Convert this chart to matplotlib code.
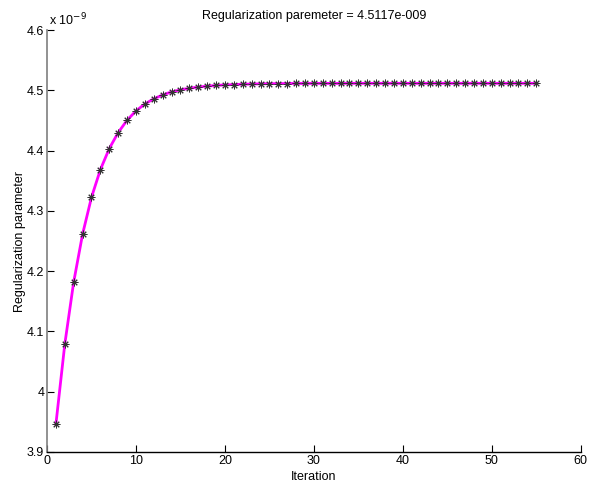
import matplotlib
matplotlib.use("Agg")
import matplotlib.pyplot as plt
from matplotlib.ticker import FuncFormatter

plt.rcParams['font.family'] = ['Liberation Sans', 'DejaVu Sans']

iterations = list(range(1, 56))
reg_param_e9 = [
    3.9460, 4.0790, 4.1820, 4.2615, 4.3225, 4.3685, 4.4035, 4.4300, 4.4505, 4.4660,
    4.4775, 4.4860, 4.4925, 4.4975, 4.5010, 4.5035, 4.5055, 4.5070, 4.5082, 4.5091,
    4.5097, 4.5102, 4.5106, 4.5109, 4.5111, 4.5113, 4.5114, 4.5115, 4.5115, 4.5116,
    4.5116, 4.5116, 4.5116, 4.5117, 4.5117, 4.5117, 4.5117, 4.5117, 4.5117, 4.5117,
    4.5117, 4.5117, 4.5117, 4.5117, 4.5117, 4.5117, 4.5117, 4.5117, 4.5117, 4.5117,
    4.5117, 4.5117, 4.5117, 4.5117, 4.5117,
]
scale = 1e-9
values = [v * scale for v in reg_param_e9]

xticks = [0, 10, 20, 30, 40, 50, 60]
yticks_e9 = [3.9, 4.0, 4.1, 4.2, 4.3, 4.4, 4.5, 4.6]

fig = plt.figure(figsize=(5.92, 4.86), dpi=100)
ax = fig.add_axes([0.0794, 0.070, 0.9016, 0.868])

ax.plot(iterations, values, color='#ff00ff', linewidth=2.0, zorder=2)
ax.plot(iterations, values, linestyle='none', marker=(8, 2, 0), color='#333333',
        markersize=5.5, markeredgewidth=0.7, zorder=3)

ax.set_xlim(0, 60)
ax.set_ylim(3.9 * scale, 4.6 * scale)
ax.set_xticks(xticks)
ax.set_yticks([t * scale for t in yticks_e9])
ax.yaxis.set_major_formatter(FuncFormatter(lambda v, p: '%g' % round(v / scale, 4)))

for s in ['top', 'right']:
    ax.spines[s].set_visible(False)
ax.spines['left'].set_color('#7f7f7f')
ax.spines['left'].set_linewidth(1.2)
ax.spines['bottom'].set_color('black')
ax.spines['bottom'].set_linewidth(1.0)

ax.tick_params(direction='in', length=5, width=0.8, labelsize=9, colors='black', pad=2)

ax.set_title('Regularization paremeter = 4.5117e-009', fontsize=9, pad=8)
ax.set_xlabel('Iteration', fontsize=9, labelpad=3)
ax.set_ylabel('Regularization parameter', fontsize=9)
ax.yaxis.set_label_coords(-0.040, 0.5)
ax.text(0.003, 1.005, r'x 10$^{-9}$', transform=ax.transAxes, fontsize=9,
        ha='left', va='bottom')

fig.savefig('out.png', dpi=100)
